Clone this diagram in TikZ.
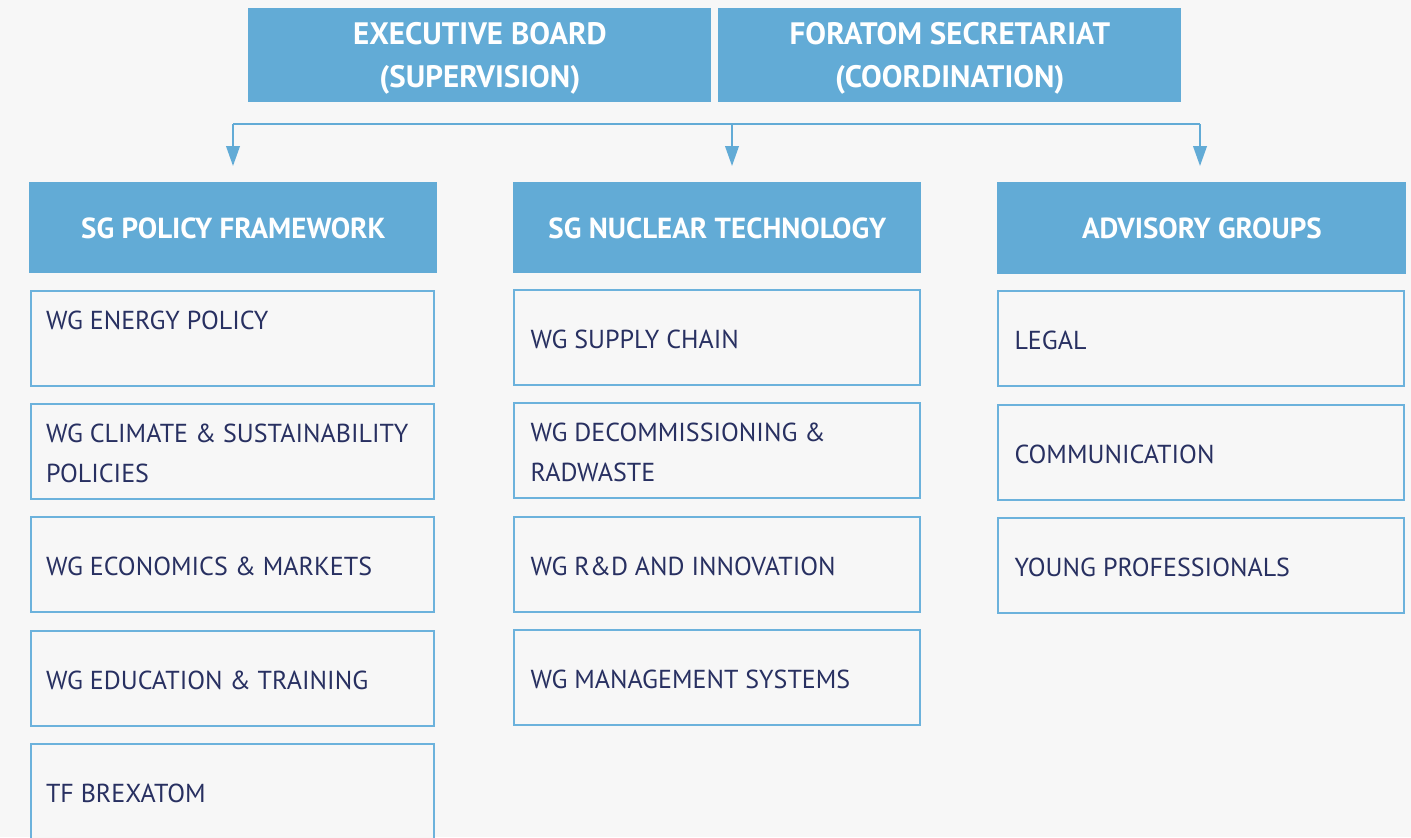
\documentclass[tikz,border=0pt]{standalone}
\usepackage{fontspec}
\setmainfont{PT Sans}
\usepackage{tikz}
\usetikzlibrary{arrows,arrows.meta}
\definecolor{hintergrund}{RGB}{247,247,247}
\definecolor{kopf}{RGB}{98,171,214}
\definecolor{rahmen}{RGB}{108,178,220}
\definecolor{schrift}{RGB}{40,48,97}

\begin{document}
\begin{tikzpicture}[x=0.5pt, y=-0.5pt,
	kopfbox/.style={fill=kopf, draw=none, anchor=north west, text=white, align=center,
		font=\fontsize{14.5}{21.5}\selectfont\bfseries, inner sep=0pt},
	gruppe/.style={draw=rahmen, line width=1pt, fill=hintergrund, anchor=north west,
		minimum width=201.5pt, minimum height=47.5pt, inner xsep=7.5pt, inner ysep=0pt,
		text width=186.5pt, align=flush left, text=schrift, font=\fontsize{13}{20}\selectfont,
		execute at begin node={\rule{0pt}{11pt}}},
	pfeil/.style={draw=kopf, line width=1pt, -{Triangle[width=6.8pt,length=10pt]}}]

	% Hintergrund und Ausschnitt
	\fill[hintergrund] (0,0) rectangle (1411,837);
	\clip (0,0) rectangle (1411,837);

	% Leitung oben
	\node[kopfbox, minimum width=231.5pt, minimum height=47pt, font=\fontsize{15.5}{21.5}\selectfont\bfseries] (EB) at (248,8) {\rule{0pt}{14.5pt}EXECUTIVE BOARD\\(SUPERVISION)};
	\node[kopfbox, minimum width=231.5pt, minimum height=47pt, font=\fontsize{15.5}{21.5}\selectfont\bfseries] (FS) at (718,8) {\rule{0pt}{14.5pt}FORATOM SECRETARIAT\\(COORDINATION)};

	\coordinate (L1) at (233,124);
	\coordinate (L2) at (732,124);
	\coordinate (L3) at (1200,124);
	\coordinate (Z1) at (233,166);
	\coordinate (Z2) at (732,166);
	\coordinate (Z3) at (1200,166);
	\draw[kopf, line width=1pt] (L1) -- (L3);
	\draw[pfeil] (L1) -- (Z1);
	\draw[pfeil] (L2) -- (Z2);
	\draw[pfeil] (L3) -- (Z3);

	% Steering groups
	\node[kopfbox, minimum width=204pt, minimum height=45.5pt] (SP) at (29,182) {SG POLICY FRAMEWORK};
	\node[kopfbox, minimum width=204pt, minimum height=45.5pt] (SN) at (513,182) {SG NUCLEAR TECHNOLOGY};
	\node[kopfbox, minimum width=204.5pt, minimum height=46pt] (AG) at (997,182) {ADVISORY GROUPS};

	% %%%% Spalte 1
	\node[gruppe] (P1) at (30,290) {WG ENERGY POLICY\\~};
	\node[gruppe] (P2) at (30,403) {WG CLIMATE \& SUSTAINABILITY\\POLICIES};
	\node[gruppe] (P3) at (30,516) {WG ECONOMICS \& MARKETS};
	\node[gruppe] (P4) at (30,630) {WG EDUCATION \& TRAINING};
	\node[gruppe] (P5) at (30,743) {TF BREXATOM};

	% %%%% Spalte 2
	\node[gruppe, minimum width=203pt] (N1) at (513,289) {WG SUPPLY CHAIN};
	\node[gruppe, minimum width=203pt] (N2) at (513,402) {WG DECOMMISSIONING \&\\RADWASTE};
	\node[gruppe, minimum width=203pt] (N3) at (513,516) {WG R\&D AND INNOVATION};
	\node[gruppe, minimum width=203pt] (N4) at (513,629) {WG MANAGEMENT SYSTEMS};

	% %%%% Spalte 3
	\node[gruppe, minimum width=203pt] (A1) at (997,290) {LEGAL};
	\node[gruppe, minimum width=203pt] (A2) at (997,404) {COMMUNICATION};
	\node[gruppe, minimum width=203pt] (A3) at (997,517) {YOUNG PROFESSIONALS};

\end{tikzpicture}
\end{document}
